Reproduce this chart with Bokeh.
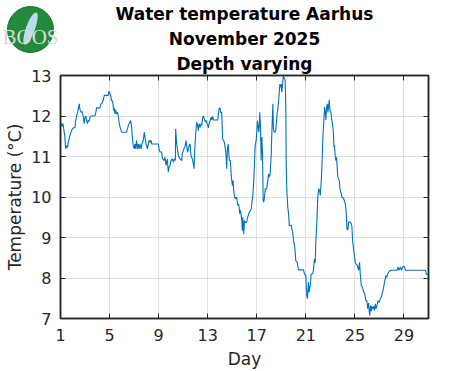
from bokeh.plotting import figure
from bokeh.models import Range1d, FixedTicker, LinearAxis, Title
from bokeh.core.properties import value
from bokeh.embed import file_html
from bokeh.resources import INLINE

title_lines = ["Water temperature Aarhus", "November 2025", "Depth varying"]
x_label = "Day"
y_label = "Temperature (°C)"
x_ticks = [1, 5, 9, 13, 17, 21, 25, 29]
y_ticks = [7, 8, 9, 10, 11, 12, 13]
logo_text = "BOOS"

day = [1.03, 1.08, 1.14, 1.20, 1.25, 1.36, 1.41, 1.49, 1.57, 1.63, 1.77, 1.90, 2.04, 2.18, 2.22,
       2.31, 2.39, 2.44, 2.53, 2.58, 2.67, 2.77, 2.85, 2.93, 2.99, 3.07, 3.12, 3.20, 3.26, 3.34,
       3.40, 3.48, 3.67, 3.81, 3.89, 3.94, 4.22, 4.30, 4.40, 4.49, 4.57, 4.89, 4.95, 5.03, 5.11,
       5.16, 5.22, 5.28, 5.33, 5.38, 5.44, 5.49, 5.57, 5.65, 5.71, 5.79, 5.87, 5.98, 6.39, 6.53,
       6.67, 6.72, 6.80, 6.85, 6.93, 7.02, 7.07, 7.12, 7.20, 7.26, 7.34, 7.40, 7.48, 7.56, 7.67,
       7.75, 7.83, 7.89, 7.94, 8.02, 8.10, 8.16, 8.22, 8.30, 8.38, 8.43, 8.98, 9.03, 9.11, 9.24,
       9.33, 9.44, 9.52, 9.60, 9.71, 9.79, 9.85, 9.93, 10.01, 10.12, 10.20, 10.28, 10.36, 10.39,
       10.47, 10.55, 10.61, 10.75, 10.88, 10.93, 11.02, 11.16, 11.24, 11.29, 11.37, 11.48, 11.56,
       11.64, 11.75, 11.83, 11.89, 11.94, 12.02, 12.10, 12.18, 12.24, 12.30, 12.38, 12.46, 12.51,
       12.57, 12.65, 12.73, 12.81, 12.87, 12.95, 13.06, 13.11, 13.20, 13.28, 13.33, 13.41, 13.47,
       13.82, 13.87, 13.93, 14.01, 14.06, 14.14, 14.22, 14.28, 14.36, 14.44, 14.50, 14.55, 14.60,
       14.67, 14.71, 14.77, 14.85, 14.91, 14.96, 15.02, 15.07, 15.12, 15.18, 15.26, 15.34, 15.40,
       15.45, 15.51, 15.56, 15.61, 15.67, 15.73, 15.78, 15.83, 15.86, 15.91, 15.94, 16.00, 16.08,
       16.16, 16.24, 16.35, 16.49, 16.54, 16.62, 16.67, 16.76, 16.81, 16.87, 16.95, 17.00, 17.06,
       17.12, 17.16, 17.22, 17.24, 17.30, 17.36, 17.41, 17.47, 17.52, 17.57, 17.63, 17.69, 17.79,
       17.85, 17.96, 18.01, 18.09, 18.18, 18.22, 18.31, 18.36, 18.42, 18.47, 18.55, 18.67, 18.72,
       18.83, 18.88, 18.94, 18.99, 19.04, 19.10, 19.16, 19.20, 19.32, 19.37, 19.40, 19.45, 19.53,
       19.59, 19.65, 19.81, 19.89, 19.94, 20.02, 20.10, 20.18, 20.29, 20.40, 20.81, 20.89, 21.00,
       21.08, 21.13, 21.22, 21.27, 21.38, 21.43, 21.54, 21.62, 21.70, 21.76, 21.82, 21.90, 21.98,
       22.04, 22.12, 22.18, 22.26, 22.31, 22.39, 22.47, 22.53, 22.59, 22.63, 22.69, 22.75, 22.80,
       22.85, 22.91, 22.96, 23.04, 23.12, 23.24, 23.29, 23.34, 23.40, 23.45, 23.51, 23.56, 23.61,
       23.73, 23.78, 23.89, 23.94, 24.08, 24.22, 24.30, 24.35, 24.43, 24.49, 24.62, 24.71, 24.76,
       24.81, 24.89, 24.98, 25.03, 25.08, 25.20, 25.30, 25.38, 25.44, 25.52, 25.63, 25.71, 25.79,
       25.85, 25.90, 25.98, 26.04, 26.12, 26.20, 26.28, 26.34, 26.39, 26.45, 26.53, 26.58, 26.67,
       26.71, 26.80, 26.88, 26.99, 27.07, 27.15, 27.26, 27.34, 27.42, 27.53, 27.61, 27.67, 27.75,
       27.89, 28.43, 28.51, 28.59, 28.71, 28.79, 28.90, 29.04, 29.12, 30.75, 30.84, 30.98]

temp = [11.77, 11.82, 11.74, 11.81, 11.71, 11.48, 11.19, 11.27, 11.22, 11.35, 11.52, 11.64, 11.71,
        11.71, 11.85, 12.00, 12.09, 12.15, 12.30, 12.17, 12.09, 12.11, 12.00, 11.81, 11.97, 12.00,
        11.89, 11.81, 11.89, 11.87, 11.97, 12.00, 12.00, 12.00, 12.11, 12.20, 12.20, 12.30, 12.32,
        12.40, 12.51, 12.51, 12.61, 12.56, 12.48, 12.38, 12.38, 12.30, 12.14, 12.20, 12.05, 12.15,
        12.05, 12.09, 12.00, 11.81, 11.71, 11.60, 11.60, 11.77, 11.85, 11.89, 11.72, 11.48, 11.27,
        11.19, 11.31, 11.19, 11.40, 11.19, 11.31, 11.19, 11.31, 11.19, 11.35, 11.40, 11.60, 11.48,
        11.35, 11.27, 11.19, 11.31, 11.40, 11.35, 11.40, 11.31, 11.31, 11.19, 11.11, 11.11, 10.94,
        10.90, 10.98, 10.78, 10.94, 10.61, 10.74, 10.78, 10.90, 10.94, 10.86, 10.94, 10.90, 11.68,
        11.31, 11.15, 11.02, 10.94, 10.90, 11.07, 11.15, 11.27, 11.40, 11.23, 11.11, 11.27, 11.31,
        11.02, 10.94, 10.82, 10.70, 11.15, 11.56, 11.85, 11.77, 11.64, 11.81, 11.72, 11.81, 11.77,
        11.93, 12.00, 11.93, 11.85, 11.89, 11.81, 11.71, 11.81, 11.89, 11.97, 11.90, 11.99, 11.90,
        11.90, 12.05, 12.18, 12.20, 12.09, 12.09, 11.44, 11.40, 11.35, 11.19, 11.02, 10.70, 11.15,
        11.31, 11.11, 10.90, 10.90, 10.57, 10.41, 10.28, 10.41, 10.16, 10.00, 9.96, 10.00, 9.91,
        9.79, 9.83, 9.75, 9.59, 9.67, 9.54, 9.42, 9.17, 9.50, 9.30, 9.09, 9.42, 9.37,
        9.37, 9.47, 9.59, 9.67, 9.69, 9.91, 10.00, 10.41, 10.82, 11.27, 11.40, 11.60, 11.89,
        11.72, 11.60, 11.81, 12.09, 11.77, 10.90, 11.48, 11.07, 9.91, 9.87, 10.00, 10.20, 10.20,
        10.28, 10.57, 10.49, 10.57, 11.07, 11.48, 12.30, 11.68, 11.60, 11.60, 11.64, 12.09, 12.18,
        12.55, 12.79, 12.71, 12.79, 12.59, 12.75, 13.00, 12.96, 12.88, 12.14, 10.82, 10.16, 9.75,
        9.59, 9.30, 9.30, 9.17, 9.10, 8.88, 8.76, 8.43, 8.39, 8.20, 8.20, 8.10, 8.06,
        7.57, 7.49, 7.90, 7.65, 7.86, 8.10, 8.10, 8.19, 8.47, 8.37, 8.93, 9.42, 10.00,
        10.20, 10.16, 10.04, 10.41, 10.74, 11.48, 11.89, 12.22, 12.09, 11.90, 12.20, 12.30, 12.09,
        12.22, 12.40, 12.14, 12.09, 11.89, 11.64, 11.23, 11.27, 10.98, 10.90, 10.98, 10.70, 10.49,
        10.41, 10.20, 10.08, 10.00, 9.96, 9.83, 9.59, 9.21, 9.19, 9.38, 9.38, 9.34, 9.26,
        8.93, 8.72, 8.51, 8.39, 8.35, 8.31, 8.19, 8.39, 8.10, 7.81, 7.77, 7.65, 7.63,
        7.53, 7.44, 7.44, 7.24, 7.38, 7.07, 7.32, 7.18, 7.30, 7.24, 7.30, 7.20, 7.36,
        7.24, 7.32, 7.44, 7.40, 7.49, 7.53, 7.65, 7.77, 7.90, 8.06, 8.02, 8.10, 8.14,
        8.19, 8.19, 8.27, 8.19, 8.27, 8.19, 8.28, 8.28, 8.19, 8.19, 8.09, 8.09]

FONT = "DejaVu Sans"
AX = "#262626"

p = figure(width=471, height=371, output_backend="svg", toolbar_location=None,
           x_range=Range1d(1, 31), y_range=Range1d(7, 13),
           min_border_left=60, min_border_right=43, min_border_top=75, min_border_bottom=53,
           x_axis_location=None, y_axis_location=None)
p.background_fill_color = "white"
p.border_fill_color = "white"
p.outline_line_color = AX
p.outline_line_width = 1.5

for loc, is_x, show in [("below", True, True), ("left", False, True),
                        ("above", True, False), ("right", False, False)]:
    ax = LinearAxis(ticker=FixedTicker(ticks=x_ticks if is_x else y_ticks))
    ax.axis_line_color = AX
    ax.axis_line_width = 1.5
    ax.major_tick_in = 5
    ax.major_tick_out = 0
    ax.major_tick_line_color = AX
    ax.minor_tick_line_color = None
    if show:
        ax.major_label_text_font = FONT
        ax.major_label_text_font_size = "16px"
        ax.major_label_text_color = AX
        ax.major_label_standoff = 10 if is_x else 9
        ax.axis_label = x_label if is_x else y_label
        ax.axis_label_text_font = FONT
        ax.axis_label_text_font_size = "17px"
        ax.axis_label_text_font_style = "normal"
        ax.axis_label_text_color = AX
        ax.axis_label_standoff = 5 if is_x else 3
    else:
        ax.major_label_text_color = None
        ax.major_label_standoff = 0
    p.add_layout(ax, loc)

p.xgrid.ticker = FixedTicker(ticks=x_ticks)
p.ygrid.ticker = FixedTicker(ticks=y_ticks)
p.grid.grid_line_color = "#dedede"
p.grid.grid_line_width = 1

p.line(day, temp, line_color="#0072BD", line_width=1.1)

for t in reversed(title_lines):
    p.add_layout(Title(text=t, align="center", text_font=FONT, text_font_size="17px",
                       text_font_style="bold", text_color="black", standoff=3), "above")

# BOOS logo (decoration) in its own small figure, placed absolutely at top-left
logo = figure(width=58, height=52, output_backend="svg", toolbar_location=None,
              x_range=Range1d(0, 58), y_range=Range1d(0, 52), min_border=0,
              x_axis_location=None, y_axis_location=None,
              styles={"position": "absolute", "left": "1px", "top": "3px"})
logo.outline_line_color = None
logo.background_fill_color = None
logo.border_fill_color = None
logo.grid.visible = False
logo.scatter(x=[29], y=[26], size=46, marker="circle", fill_color="#23893b",
             line_color="#1d6e30", line_width=1)
logo.ellipse(x=[29], y=[27], width=9, height=34, angle=-0.35, fill_color="#b9dcef",
             line_color=None)
logo.text(x=[29], y=[19], text=[logo_text], text_align="center", text_baseline="alphabetic",
          text_font=value("Liberation Serif"), text_font_size="21px", text_color="#d9dcd9")

open("out.html", "w").write(file_html([p, logo], INLINE))
